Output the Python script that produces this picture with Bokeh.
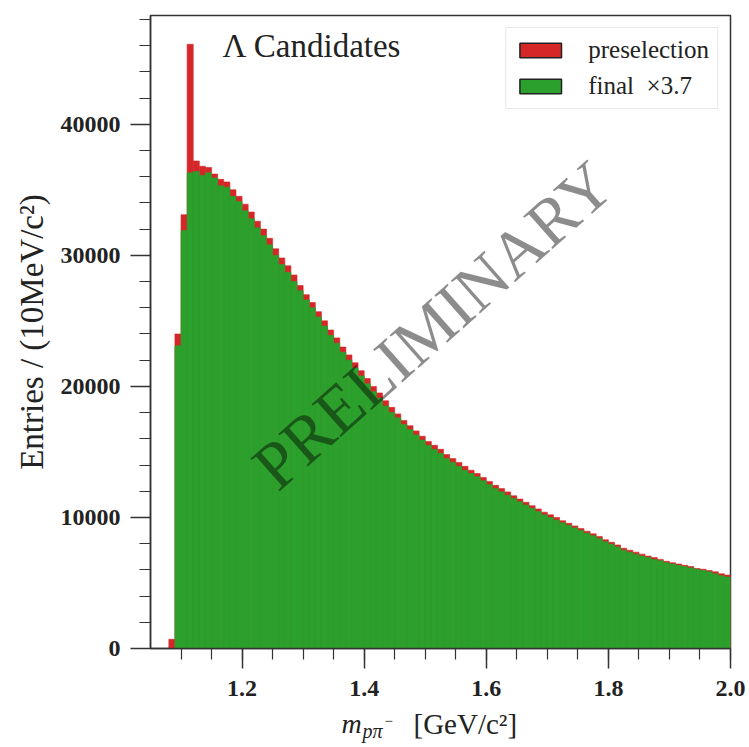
import numpy as np
from bokeh.plotting import figure
from bokeh.layouts import column
from bokeh.models import (ColumnDataSource, Range1d, FixedTicker, PrintfTickFormatter,
                          Label, Legend, LegendItem)
from bokeh.embed import file_html
from bokeh.resources import INLINE

# ---- data (10 MeV bins, lower edges from 1.08 GeV) ----
bin_lo = 1.08
bin_width = 0.01
preselection = [
    700, 24000, 33100, 46100, 37200, 36800, 36700, 36200, 35800, 35600,
    35000, 34500, 33900, 33300, 32600, 32000, 31300, 30500, 29800, 29200,
    28500, 27700, 27000, 26400, 25700, 25000, 24300, 23700, 23000, 22400,
    21800, 21200, 20600, 20000, 19500, 18900, 18400, 17900, 17400, 17000,
    16600, 16200, 15800, 15500, 15200, 14800, 14500, 14200, 13900, 13600,
    13350, 13050, 12750, 12450, 12200, 11950, 11650, 11400, 11150, 10900,
    10650, 10400, 10200, 10000, 9750, 9550, 9350, 9150, 8950, 8750,
    8550, 8300, 8100, 7900, 7650, 7500, 7350, 7200, 7050, 6950,
    6800, 6650, 6550, 6450, 6350, 6250, 6100, 6050, 5950, 5850,
    5700, 5600,
]
final_x37 = [
    0, 23100, 31900, 36300, 36400, 36100, 36300, 35900, 35300, 35200,
    34500, 34100, 33400, 32800, 32100, 31500, 30800, 30000, 29300, 28700,
    28000, 27300, 26600, 26000, 25300, 24600, 23900, 23300, 22600, 22000,
    21400, 20800, 20200, 19600, 19100, 18500, 18000, 17600, 17100, 16700,
    16300, 15900, 15500, 15200, 14900, 14500, 14200, 13900, 13600, 13350,
    13100, 12800, 12500, 12200, 11950, 11700, 11450, 11200, 10950, 10700,
    10450, 10200, 10000, 9800, 9600, 9400, 9200, 9000, 8800, 8600,
    8400, 8150, 7950, 7750, 7500, 7350, 7200, 7050, 6950, 6800,
    6700, 6550, 6450, 6350, 6250, 6150, 6050, 5950, 5850, 5700,
    5550, 5450,
]
x_major = [1.2, 1.4, 1.6, 1.8, 2.0]
x_minor = [1.1, 1.15, 1.2, 1.25, 1.3, 1.35, 1.4, 1.45, 1.5, 1.55, 1.6, 1.65,
           1.7, 1.75, 1.8, 1.85, 1.9, 1.95, 2.0]
x_tick_labels = ["1.2", "1.4", "1.6", "1.8", "2.0"]
y_major = [0, 10000, 20000, 30000, 40000]
y_minor = list(range(0, 48001, 2000))

n = len(preselection)
left = [bin_lo + i * bin_width for i in range(n)]
right = [bin_lo + (i + 1) * bin_width for i in range(n)]

src_pre = ColumnDataSource(dict(left=left, right=right, top=preselection))
src_fin = ColumnDataSource(dict(left=left, right=right, top=final_x37))

RED = "#d62728"
GREEN = "#2ca02c"
INK = "#222222"
FONT = "Liberation Serif"
X0, X1 = 1.05, 2.0
FRAME_W = 580

p = figure(title=None, frame_width=FRAME_W, frame_height=633, output_backend="svg",
           toolbar_location=None, x_range=Range1d(X0, X1),
           y_range=Range1d(0, 48300),
           min_border_left=150, min_border_right=19, min_border_top=15,
           min_border_bottom=24)
p.grid.visible = False
p.background_fill_color = "white"
p.border_fill_color = "white"
p.outline_line_color = "#333333"
p.outline_line_width = 1.5

p.quad(left="left", right="right", top="top", bottom=0, source=src_pre,
       fill_color=RED, line_color=RED, line_width=0.6)
p.quad(left="left", right="right", top="top", bottom=0, source=src_fin,
       fill_color=GREEN, line_color=GREEN, line_width=0.6)

# axes
for ax in (p.xaxis[0], p.yaxis[0]):
    ax.axis_line_color = "#333333"
    ax.axis_line_width = 1.5
    ax.major_tick_line_color = "#333333"
    ax.minor_tick_line_color = "#333333"
    ax.major_tick_line_width = 1.5
    ax.minor_tick_line_width = 1.2
    ax.major_tick_in = 0
    ax.major_tick_out = 20
    ax.minor_tick_in = 0
    ax.minor_tick_out = 11
    ax.major_label_text_font = FONT
    ax.major_label_text_font_style = "bold"
    ax.major_label_text_font_size = "24px"
    ax.major_label_text_color = INK

p.xaxis.ticker = FixedTicker(ticks=x_major, minor_ticks=x_minor)
# x tick labels are drawn in the strip below (so the strip height is exact)
p.xaxis.major_label_overrides = {v: "" for v in x_major}
p.xaxis.major_label_text_font_size = "1px"
p.xaxis.major_label_standoff = 0
p.yaxis.ticker = FixedTicker(ticks=y_major, minor_ticks=y_minor)
p.yaxis.formatter = PrintfTickFormatter(format="%d")
p.yaxis.major_label_standoff = 10

p.yaxis.axis_label = "Entries / (10MeV/c²)"
p.yaxis.axis_label_text_font = FONT
p.yaxis.axis_label_text_font_style = "normal"
p.yaxis.axis_label_text_font_size = "33px"
p.yaxis.axis_label_text_color = INK
p.yaxis.axis_label_standoff = 8

# in-plot texts
p.add_layout(Label(x=72, y=603, x_units="screen", y_units="screen", text="Λ Candidates",
                   text_font=FONT, text_font_size="33px", text_color=INK,
                   text_baseline="middle"))
p.add_layout(Label(x=1.512, y=24700, text="PRELIMINARY", angle=0.726,
                   text_font=FONT, text_font_size="67px", text_color="black",
                   text_alpha=0.45, text_align="center", text_baseline="middle"))

# legend with outlined swatches (dummy bars lie outside the visible x range)
dummy = ColumnDataSource(dict(left=[0.0], right=[0.01], top=[1.0]))
r_leg_pre = p.quad(left="left", right="right", top="top", bottom=0, source=dummy,
                   fill_color=RED, line_color=INK, line_width=1.5)
r_leg_fin = p.quad(left="left", right="right", top="top", bottom=0, source=dummy,
                   fill_color=GREEN, line_color=INK, line_width=1.5)
legend = Legend(items=[LegendItem(label="preselection", renderers=[r_leg_pre]),
                       LegendItem(label="final  ×3.7", renderers=[r_leg_fin])],
                location="top_right", margin=12, padding=8, spacing=8,
                glyph_width=52, glyph_height=18, label_standoff=22, label_height=20,
                label_text_font=FONT, label_text_font_size="25px",
                label_text_color=INK, border_line_color="#d0d0d0",
                border_line_width=1.2, background_fill_alpha=0.8)
p.add_layout(legend)

# ---- strip below the main figure: x tick labels and x-axis title ----
Q_W = 599          # frame runs from page x=150 to the right edge
Q_H = 75
q_x1 = X0 + (X1 - X0) * Q_W / FRAME_W   # same data scale as the main frame
q = figure(title=None, frame_width=Q_W, frame_height=Q_H, output_backend="svg",
           toolbar_location=None, x_axis_location=None, y_axis_location=None,
           x_range=Range1d(X0, q_x1), y_range=Range1d(0, Q_H),
           min_border_left=150, min_border_right=0,
           min_border_top=0, min_border_bottom=0)
q.extra_x_ranges = {"px": Range1d(150, 150 + Q_W)}
q.grid.visible = False
q.outline_line_color = None
q.border_fill_color = "white"
q.background_fill_color = "white"

q.text(x=x_major, y=[59] * len(x_major), text=x_tick_labels, text_font=FONT,
       text_font_style="bold", text_font_size="24px", text_color=INK,
       text_align="center", text_baseline="middle")

q.text(x=[341], y=[24], text=["m"], x_range_name="px", text_font=FONT,
       text_font_style="italic", text_font_size="28px", text_color=INK,
       text_baseline="middle")
q.text(x=[362], y=[17], text=["pπ"], x_range_name="px", text_font=FONT,
       text_font_style="italic", text_font_size="20px", text_color=INK,
       text_baseline="middle")
q.text(x=[384], y=[27], text=["−"], x_range_name="px", text_font=FONT,
       text_font_size="15px", text_color=INK, text_baseline="middle")
q.text(x=[413], y=[24], text=["[GeV/c²]"], x_range_name="px", text_font=FONT,
       text_font_size="29px", text_color=INK, text_baseline="middle")

layout = column(p, q, spacing=0)
open("out.html", "w").write(file_html(layout, INLINE))
